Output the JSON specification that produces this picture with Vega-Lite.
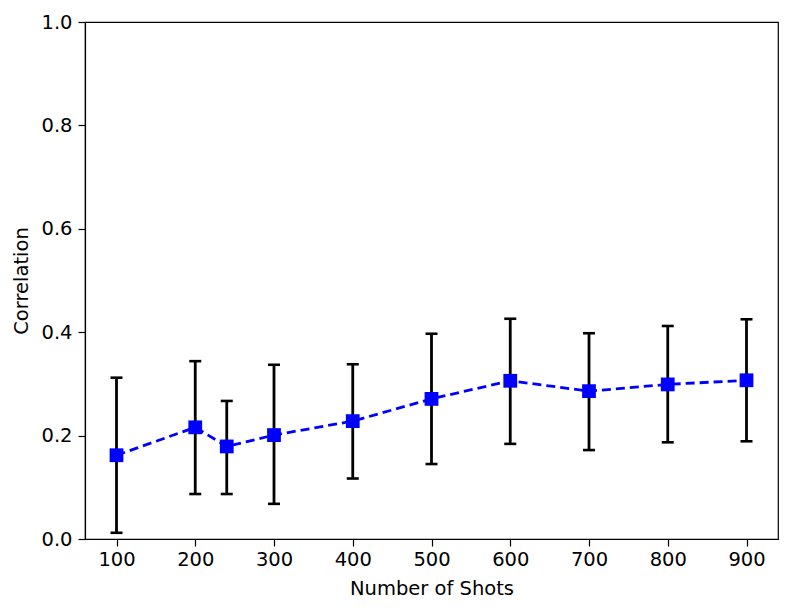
{
  "$schema": "https://vega.github.io/schema/vega-lite/v6.json",
  "width": 693,
  "height": 517,
  "autosize": {"type": "none"},
  "padding": {"left": 85, "top": 22, "right": 15, "bottom": 73},
  "background": "white",
  "config": {
    "view": {"stroke": "black", "strokeWidth": 1.2},
    "font": "DejaVu Sans",
    "axis": {
      "domainColor": "black",
      "domainWidth": 1.2,
      "tickColor": "black",
      "tickWidth": 1.2,
      "tickSize": 7,
      "labelFontSize": 19.5,
      "labelColor": "black",
      "titleFontSize": 19.5,
      "titleFontWeight": "normal",
      "titleColor": "black",
      "grid": false,
      "labelPadding": 4
    }
  },
  "data": {
    "values": [
      {"shots": 100, "corr": 0.162, "hi": 0.312, "lo": 0.012},
      {"shots": 200, "corr": 0.216, "hi": 0.344, "lo": 0.087},
      {"shots": 240, "corr": 0.179, "hi": 0.267, "lo": 0.087},
      {"shots": 300, "corr": 0.201, "hi": 0.337, "lo": 0.068},
      {"shots": 400, "corr": 0.228, "hi": 0.338, "lo": 0.117},
      {"shots": 500, "corr": 0.271, "hi": 0.397, "lo": 0.145},
      {"shots": 600, "corr": 0.306, "hi": 0.426, "lo": 0.184},
      {"shots": 700, "corr": 0.286, "hi": 0.398, "lo": 0.172},
      {"shots": 800, "corr": 0.299, "hi": 0.412, "lo": 0.187},
      {"shots": 900, "corr": 0.307, "hi": 0.425, "lo": 0.189}
    ]
  },
  "encoding": {
    "x": {
      "field": "shots",
      "type": "quantitative",
      "scale": {"domain": [60, 940], "nice": false, "zero": false},
      "axis": {"values": [100, 200, 300, 400, 500, 600, 700, 800, 900], "title": "Number of Shots", "titlePadding": 11}
    }
  },
  "layer": [
    {
      "mark": {"type": "rule", "color": "black", "strokeWidth": 2.8},
      "encoding": {
        "y": {
          "field": "lo",
          "type": "quantitative",
          "scale": {"domain": [0, 1], "nice": false},
          "axis": {"values": [0, 0.2, 0.4, 0.6, 0.8, 1.0], "format": ".1f", "title": "Correlation", "titlePadding": 9, "labelPadding": 6}
        },
        "y2": {"field": "hi"}
      }
    },
    {
      "mark": {"type": "tick", "orient": "horizontal", "color": "black", "size": 12, "thickness": 2.6, "opacity": 1},
      "encoding": {"y": {"field": "hi", "type": "quantitative"}}
    },
    {
      "mark": {"type": "tick", "orient": "horizontal", "color": "black", "size": 12, "thickness": 2.6, "opacity": 1},
      "encoding": {"y": {"field": "lo", "type": "quantitative"}}
    },
    {
      "mark": {"type": "line", "color": "#0000ff", "strokeWidth": 2.8, "strokeDash": [9, 5]},
      "encoding": {"y": {"field": "corr", "type": "quantitative"}}
    },
    {
      "mark": {"type": "point", "shape": "square", "filled": true, "color": "#0000ff", "opacity": 1, "size": 190},
      "encoding": {"y": {"field": "corr", "type": "quantitative"}}
    }
  ]
}
